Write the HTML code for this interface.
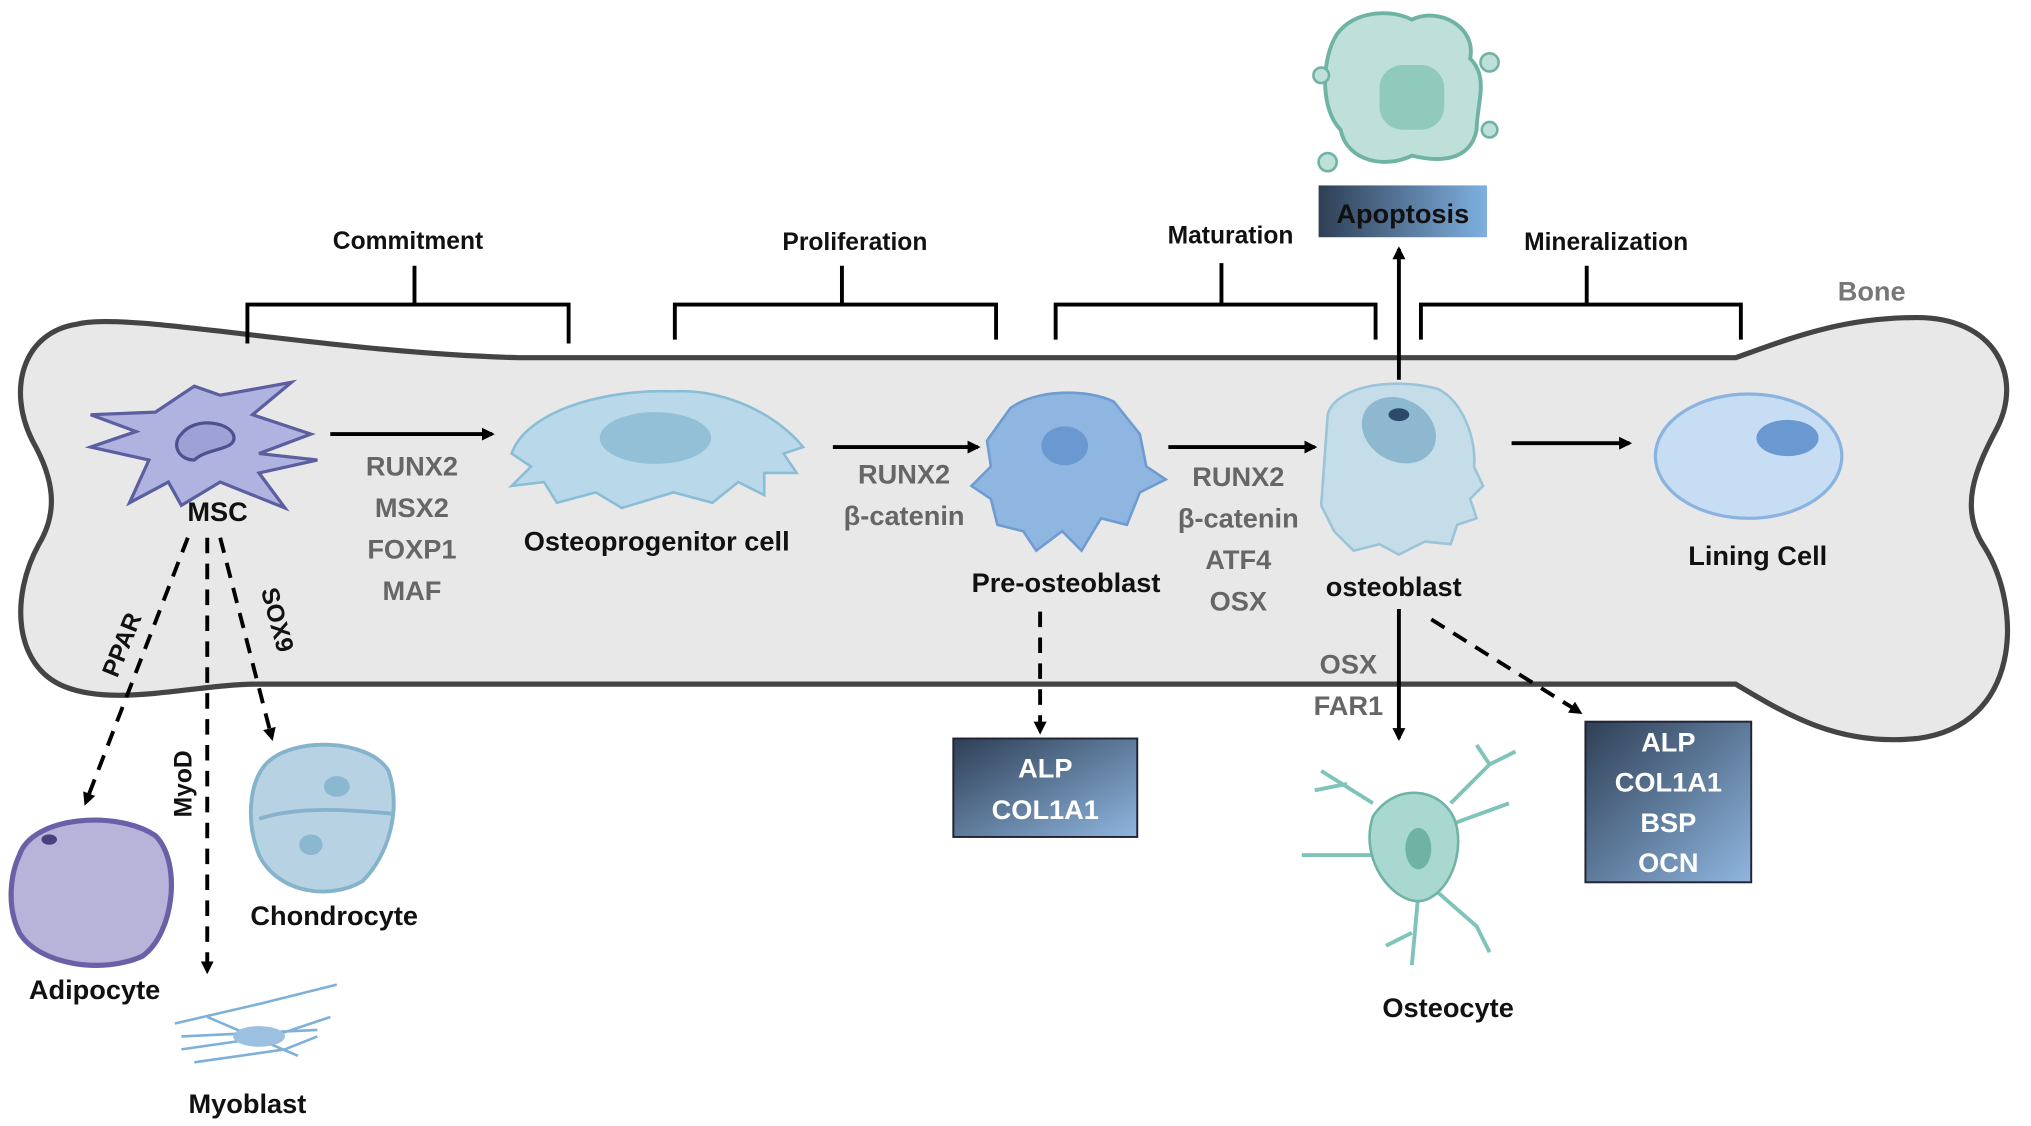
<!DOCTYPE html>
<html><head><meta charset="utf-8"><style>
html,body{margin:0;padding:0;background:#fff;}
svg{display:block;}
text{font-family:"Liberation Sans",sans-serif;font-weight:bold;}
</style></head><body>
<svg width="2031" height="1126" viewBox="0 0 1568 869" xmlns="http://www.w3.org/2000/svg">
<defs>
<linearGradient id="bx" x1="0" y1="0" x2="1" y2="1"><stop offset="0" stop-color="#2e3f55"/><stop offset="1" stop-color="#8fb6e0"/></linearGradient>
<linearGradient id="ap" x1="0" y1="0" x2="1" y2="0"><stop offset="0" stop-color="#2e3f55"/><stop offset="1" stop-color="#7fb0e0"/></linearGradient>
<marker id="ah" markerWidth="10" markerHeight="10" refX="8" refY="5" orient="auto" markerUnits="userSpaceOnUse"><path d="M0,0 L10,5 L0,10 Z" fill="#000"/></marker>
</defs>
<!-- bone -->
<path d="M60 250 C100 240,250 272,400 276 L1340 276 C1380 262,1420 245,1480 245 C1540 245,1562 290,1542 330 C1525 362,1512 392,1532 422 C1562 470,1560 560,1480 570 C1420 576,1380 552,1340 528 L200 528 C150 528,90 546,50 530 C10 514,8 460,30 420 C45 395,42 370,25 340 C5 300,18 256,60 250 Z" fill="#e8e8e8" stroke="#444" stroke-width="4"/>
<!-- brackets -->
<g stroke="#000" stroke-width="3" fill="none">
<path d="M191 265 V235 H439 V265 M320 235 V205"/>
<path d="M521 262 V235 H769 V262 M650 235 V205"/>
<path d="M815 262 V235 H1062 V262 M943 235 V203"/>
<path d="M1097 262 V235 H1344 V262 M1225 235 V205"/>
</g>
<g font-size="19" text-anchor="middle" fill="#111">
<text x="315" y="192">Commitment</text>
<text x="660" y="193">Proliferation</text>
<text x="950" y="188">Maturation</text>
<text x="1240" y="193">Mineralization</text>
</g>
<text x="1445" y="232" font-size="21" fill="#777" text-anchor="middle">Bone</text>
<!-- apoptosis cell -->
<path d="M1030 30 C1040 10,1070 5,1090 15 C1110 5,1140 20,1135 45 C1150 60,1140 80,1140 100 C1135 125,1110 125,1090 120 C1070 130,1040 125,1035 100 C1020 85,1020 50,1030 30 Z" fill="#bfe0d8" stroke="#6fb3a5" stroke-width="3"/>
<rect x="1065" y="50" width="50" height="50" rx="18" fill="#8fcabd"/>
<circle cx="1150" cy="48" r="7" fill="#bfe0d8" stroke="#6fb3a5" stroke-width="2"/>
<circle cx="1020" cy="58" r="6" fill="#bfe0d8" stroke="#6fb3a5" stroke-width="2"/>
<circle cx="1025" cy="125" r="7" fill="#bfe0d8" stroke="#6fb3a5" stroke-width="2"/>
<circle cx="1150" cy="100" r="6" fill="#bfe0d8" stroke="#6fb3a5" stroke-width="2"/>
<rect x="1018" y="143" width="130" height="40" fill="url(#ap)"/>
<text x="1083" y="172" font-size="21" text-anchor="middle" fill="#111">Apoptosis</text>
<!-- MSC -->
<path d="M70 320 L120 318 L150 298 L170 305 L225 295 L195 320 L240 335 L200 350 L245 355 L200 365 L220 392 L170 372 L140 390 L130 372 L100 388 L115 355 L70 345 L105 333 Z" fill="#b0b2e0" stroke="#5b5fa0" stroke-width="2.5"/>
<path d="M140 335 C150 322,175 325,180 335 C185 348,160 345,150 355 C138 355,132 343,140 335 Z" fill="#9ea1d6" stroke="#4d5190" stroke-width="2.5"/>
<text x="168" y="402" font-size="21" text-anchor="middle" fill="#111">MSC</text>
<!-- osteoprogenitor -->
<path d="M395 350 C405 320,460 300,520 302 C560 300,600 320,620 345 L605 350 L615 365 L590 365 L590 382 L570 372 L550 388 L520 380 L480 392 L460 380 L430 388 L420 372 L395 375 L410 360 Z" fill="#b9d9ea" stroke="#8abdd6" stroke-width="2"/>
<ellipse cx="506" cy="338" rx="43" ry="20" fill="#93c0d6"/>
<text x="507" y="425" font-size="21" text-anchor="middle" fill="#111">Osteoprogenitor cell</text>
<!-- pre-osteoblast -->
<path d="M780 315 C800 300,840 300,860 310 L880 335 L885 360 L900 370 L880 380 L870 405 L850 400 L835 425 L820 410 L800 425 L790 410 L770 405 L765 385 L750 375 L765 360 L762 340 Z" fill="#8fb6e0" stroke="#6e9bd0" stroke-width="2"/>
<ellipse cx="822" cy="344" rx="18" ry="15" fill="#6a98d0"/>
<text x="823" y="457" font-size="21" text-anchor="middle" fill="#111">Pre-osteoblast</text>
<!-- osteoblast -->
<path d="M1025 320 C1030 300,1070 290,1110 300 C1130 310,1140 340,1138 360 L1145 375 L1135 385 L1140 400 L1125 405 L1120 420 L1100 418 L1080 428 L1065 420 L1045 425 L1030 410 L1020 390 Z" fill="#c4dde9" stroke="#9cc4d8" stroke-width="2"/>
<ellipse cx="1080" cy="332" rx="30" ry="24" fill="#8db8cf" transform="rotate(30 1080 332)"/>
<ellipse cx="1080" cy="320" rx="8" ry="5" fill="#2e4a6a"/>
<text x="1076" y="460" font-size="21" text-anchor="middle" fill="#111">osteoblast</text>
<!-- lining cell -->
<ellipse cx="1350" cy="352" rx="72" ry="48" fill="#c7ddf4" stroke="#8ab3e0" stroke-width="2.5"/>
<ellipse cx="1380" cy="338" rx="24" ry="14" fill="#6a98d0"/>
<text x="1357" y="436" font-size="21" text-anchor="middle" fill="#111">Lining Cell</text>
<!-- gene labels -->
<g font-size="21" fill="#666" text-anchor="middle">
<text x="318" y="367">RUNX2</text><text x="318" y="399">MSX2</text><text x="318" y="431">FOXP1</text><text x="318" y="463">MAF</text>
<text x="698" y="373">RUNX2</text><text x="698" y="405">β-catenin</text>
<text x="956" y="375">RUNX2</text><text x="956" y="407">β-catenin</text><text x="956" y="439">ATF4</text><text x="956" y="471">OSX</text>
<text x="1041" y="520">OSX</text><text x="1041" y="552">FAR1</text>
</g>
<!-- arrows -->
<g stroke="#000" stroke-width="3" fill="none" marker-end="url(#ah)">
<line x1="255" y1="335" x2="380" y2="335"/>
<line x1="643" y1="345" x2="755" y2="345"/>
<line x1="902" y1="345" x2="1015" y2="345"/>
<line x1="1167" y1="342" x2="1258" y2="342"/>
<line x1="1080" y1="293" x2="1080" y2="192"/>
<line x1="1080" y1="470" x2="1080" y2="570"/>
</g>
<g stroke="#000" stroke-width="3" fill="none" stroke-dasharray="12 8" marker-end="url(#ah)">
<line x1="1105" y1="478" x2="1220" y2="550"/>
<line x1="803" y1="472" x2="803" y2="565"/>
<line x1="145" y1="415" x2="66" y2="620"/>
<line x1="160" y1="415" x2="160" y2="750"/>
<line x1="170" y1="415" x2="210" y2="570"/>
</g>
<g font-size="19" fill="#111" text-anchor="middle">
<text transform="translate(100 500) rotate(-68)">PPAR</text>
<text transform="translate(148 605) rotate(-90)">MyoD</text>
<text transform="translate(208 480) rotate(75)">SOX9</text>
</g>
<!-- boxes -->
<rect x="736" y="570" width="142" height="76" fill="url(#bx)" stroke="#223" stroke-width="1.5"/>
<text x="807" y="600" font-size="21" text-anchor="middle" fill="#fff">ALP</text>
<text x="807" y="632" font-size="21" text-anchor="middle" fill="#fff">COL1A1</text>
<rect x="1224" y="557" width="128" height="124" fill="url(#bx)" stroke="#223" stroke-width="1.5"/>
<g font-size="21" text-anchor="middle" fill="#fff">
<text x="1288" y="580">ALP</text><text x="1288" y="611">COL1A1</text><text x="1288" y="642">BSP</text><text x="1288" y="673">OCN</text>
</g>
<!-- osteocyte -->
<g stroke="#7ec4b8" stroke-width="3" fill="none">
<path d="M1060 620 L1020 595 M1040 605 L1015 610 M1120 620 L1150 590 L1170 580 M1150 590 L1140 575 M1110 640 L1165 620 M1070 660 L1005 660 M1095 690 L1090 745 M1090 720 L1070 730 M1100 680 L1140 715 L1150 735"/>
</g>
<path d="M1060 630 C1080 600,1120 610,1125 640 C1130 670,1110 700,1090 695 C1070 690,1050 660,1060 630 Z" fill="#a8d8cf" stroke="#6fb3a5" stroke-width="2"/>
<ellipse cx="1095" cy="655" rx="10" ry="16" fill="#6fb3a5"/>
<text x="1118" y="785" font-size="21" text-anchor="middle" fill="#111">Osteocyte</text>
<!-- adipocyte -->
<path d="M15 660 C25 630,90 625,120 645 C140 665,135 720,110 738 C80 752,30 745,15 720 C5 700,8 675,15 660 Z" fill="#b8b3d8" stroke="#6a60a8" stroke-width="4"/>
<ellipse cx="38" cy="648" rx="6" ry="4" fill="#4a4080"/>
<text x="73" y="771" font-size="21" text-anchor="middle" fill="#111">Adipocyte</text>
<!-- chondrocyte -->
<path d="M205 590 C225 568,285 570,300 595 C310 625,300 660,280 680 C255 695,215 690,200 660 C190 635,192 605,205 590 Z" fill="#b7d3e3" stroke="#86b3cc" stroke-width="3"/>
<path d="M200 632 C230 622,270 625,302 628" stroke="#86b3cc" stroke-width="3" fill="none"/>
<ellipse cx="260" cy="607" rx="10" ry="8" fill="#8ab8d0"/>
<ellipse cx="240" cy="652" rx="9" ry="8" fill="#8ab8d0"/>
<text x="258" y="714" font-size="21" text-anchor="middle" fill="#111">Chondrocyte</text>
<!-- myoblast -->
<g stroke="#7fb0d8" stroke-width="2" fill="none">
<path d="M135 790 L200 775 L260 760 M140 810 L210 800 L255 785 M150 820 L220 810 L245 800 M140 800 L245 795 M160 785 L230 815"/>
</g>
<ellipse cx="200" cy="800" rx="20" ry="8" fill="#9cc0e0"/>
<text x="191" y="859" font-size="21" text-anchor="middle" fill="#111">Myoblast</text>
</svg>
</body></html>
